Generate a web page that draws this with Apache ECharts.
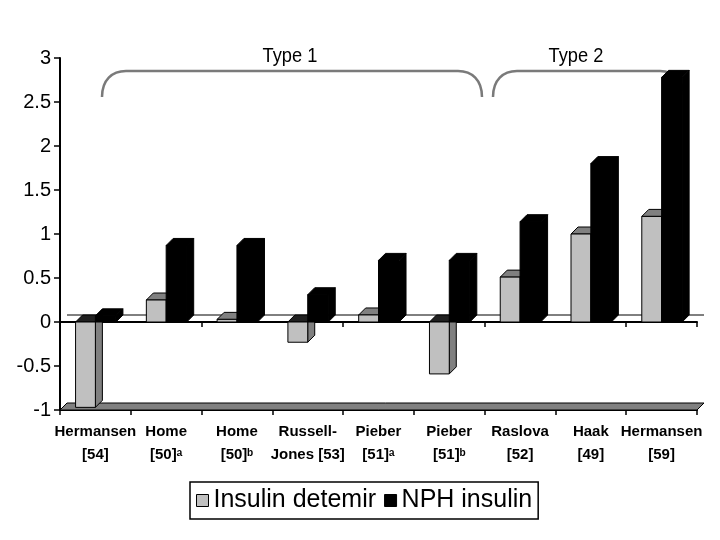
<!DOCTYPE html>
<html>
<head>
<meta charset="utf-8">
<script src="https://cdn.jsdelivr.net/npm/echarts@6/dist/echarts.min.js"></script>
<style>
html,body{margin:0;padding:0;background:#fff;}
#chart{width:720px;height:540px;}
</style>
</head>
<body>
<div id="chart"></div>
<script>
const categories = ['Hermansen\n[54]', 'Home\n[50]ᵃ', 'Home\n[50]ᵇ', 'Russell-\nJones [53]', 'Pieber\n[51]ᵃ', 'Pieber\n[51]ᵇ', 'Raslova\n[52]', 'Haak\n[49]', 'Hermansen\n[59]'];
const detemir = [-0.97, 0.25, 0.03, -0.23, 0.08, -0.59, 0.51, 1.0, 1.2];
const nph = [0.07, 0.87, 0.87, 0.31, 0.7, 0.7, 1.14, 1.8, 2.78];
const seriesNames = ['Insulin detemir', 'NPH insulin'];
const yTicks = { min: -1, max: 3, interval: 0.5 };

const DX = 7, DY = 7;
const SANS = '"Liberation Sans", Arial, sans-serif';

function barRenderer(slotStart, slotEnd, frontColor, topColor, sideColor, negTopColor) {
  return function (params, api) {
    const i = api.value(0), v = api.value(1);
    const base = api.coord([i, 0]);
    const end = api.coord([i, v]);
    const bw = api.size([1, 0])[0];
    const left = base[0] - bw / 2;
    const x0 = left + bw * slotStart, x1 = left + bw * slotEnd;
    const yTop = Math.min(base[1], end[1]), yBot = Math.max(base[1], end[1]);
    const edge = { stroke: '#000', lineWidth: 1 };
    return {
      type: 'group',
      children: [
        { type: 'polygon', shape: { points: [[x1, yTop], [x1 + DX, yTop - DY], [x1 + DX, yBot - DY], [x1, yBot]] }, style: Object.assign({ fill: sideColor }, edge) },
        { type: 'polygon', shape: { points: [[x0, yTop], [x0 + DX, yTop - DY], [x1 + DX, yTop - DY], [x1, yTop]] }, style: Object.assign({ fill: v < 0 ? negTopColor : topColor }, edge) },
        { type: 'rect', shape: { x: x0, y: yTop, width: x1 - x0, height: yBot - yTop }, style: Object.assign({ fill: frontColor }, edge) }
      ]
    };
  };
}

function floorRenderer(params, api) {
  const cs = params.coordSys;
  const yFloor = api.coord([0, yTicks.min])[1];
  const yZero = api.coord([0, 0])[1];
  return {
    type: 'group',
    children: [
      { type: 'line', shape: { x1: cs.x + DX, y1: yZero - DY, x2: cs.x + cs.width + DX, y2: yZero - DY }, style: { stroke: '#000', lineWidth: 1 } },
      { type: 'polygon', shape: { points: [[cs.x, yFloor], [cs.x + DX, yFloor - DY], [cs.x + cs.width + DX, yFloor - DY], [cs.x + cs.width, yFloor]] }, style: { fill: '#808080', stroke: '#000', lineWidth: 1 } }
    ]
  };
}

function brace(xl, xr, yTopLine, yEnd, r) {
  const st = { stroke: '#7a7a7a', lineWidth: 2.5, fill: null };
  return [
    { type: 'bezierCurve', z: 0, shape: { x1: xl, y1: yEnd, cpx1: xl, cpy1: yEnd - 17, cpx2: xl + 10, cpy2: yTopLine, x2: xl + r, y2: yTopLine }, style: st },
    { type: 'line', z: 0, shape: { x1: xl + r, y1: yTopLine, x2: xr - r, y2: yTopLine }, style: st },
    { type: 'bezierCurve', z: 0, shape: { x1: xr - r, y1: yTopLine, cpx1: xr - 10, cpy1: yTopLine, cpx2: xr, cpy2: yEnd - 17, x2: xr, y2: yEnd }, style: st }
  ];
}

const chart = echarts.init(document.getElementById('chart'), null, { renderer: 'canvas' });
chart.setOption({
  animation: false,
  backgroundColor: '#fff',
  grid: { left: 60, right: 23, top: 58, bottom: 130 },
  legend: {
    data: seriesNames,
    left: 190, top: 482,
    orient: 'horizontal',
    borderColor: '#000', borderWidth: 1.5,
    padding: [6, 6, 6, 6],
    itemGap: 8, itemWidth: 12, itemHeight: 12,
    icon: 'rect',
    itemStyle: { borderColor: '#000', borderWidth: 1 },
    textStyle: { fontFamily: SANS, fontSize: 25, color: '#000' }
  },
  xAxis: [
    {
      type: 'category', data: categories, position: 'bottom',
      axisLine: { onZero: false, lineStyle: { color: '#000', width: 2 } },
      axisTick: { show: true, length: 5, lineStyle: { color: '#000', width: 1.5 } },
      axisLabel: { interval: 0, margin: 10, fontFamily: SANS, fontWeight: 'bold', fontSize: 15, lineHeight: 23, color: '#000' },
      splitLine: { show: false }
    },
    {
      type: 'category', data: categories, position: 'top',
      axisLine: { onZero: true, lineStyle: { color: '#000', width: 2 } },
      axisTick: { show: true, inside: true, length: 5, lineStyle: { color: '#000', width: 1.5 } },
      axisLabel: { show: false },
      splitLine: { show: false }
    }
  ],
  yAxis: {
    type: 'value', min: yTicks.min, max: yTicks.max, interval: yTicks.interval,
    axisLine: { show: true, lineStyle: { color: '#000', width: 2 } },
    axisTick: { show: true, length: 6, lineStyle: { color: '#000', width: 1.5 } },
    axisLabel: { margin: 9, fontFamily: SANS, fontSize: 20, color: '#000' },
    splitLine: { show: false }
  },
  graphic: [].concat(
    brace(102, 482, 71, 97, 24),
    brace(493, 684, 71, 97, 24),
    [
      { type: 'text', z: 0, x: 290, y: 56, scaleX: 0.87, style: { text: 'Type 1', textAlign: 'center', textVerticalAlign: 'middle', font: '21px ' + SANS, fill: '#000' } },
      { type: 'text', z: 0, x: 576, y: 56, scaleX: 0.87, style: { text: 'Type 2', textAlign: 'center', textVerticalAlign: 'middle', font: '21px ' + SANS, fill: '#000' } }
    ]
  ),
  series: [
    {
      name: 'floor', type: 'custom', z: 1, silent: true,
      renderItem: floorRenderer,
      data: [[0, yTicks.min]]
    },
    {
      name: seriesNames[0], type: 'custom', z: 3,
      itemStyle: { color: '#c0c0c0', borderColor: '#000', borderWidth: 1 },
      renderItem: barRenderer(0.22, 0.50, '#c0c0c0', '#808080', '#808080', '#202020'),
      encode: { x: 0, y: 1 },
      data: detemir.map((v, i) => [i, v])
    },
    {
      name: seriesNames[1], type: 'custom', z: 4,
      itemStyle: { color: '#000000', borderColor: '#000', borderWidth: 1 },
      renderItem: barRenderer(0.50, 0.79, '#000', '#000', '#000', '#000'),
      encode: { x: 0, y: 1 },
      data: nph.map((v, i) => [i, v])
    }
  ]
});
</script>
</body>
</html>
